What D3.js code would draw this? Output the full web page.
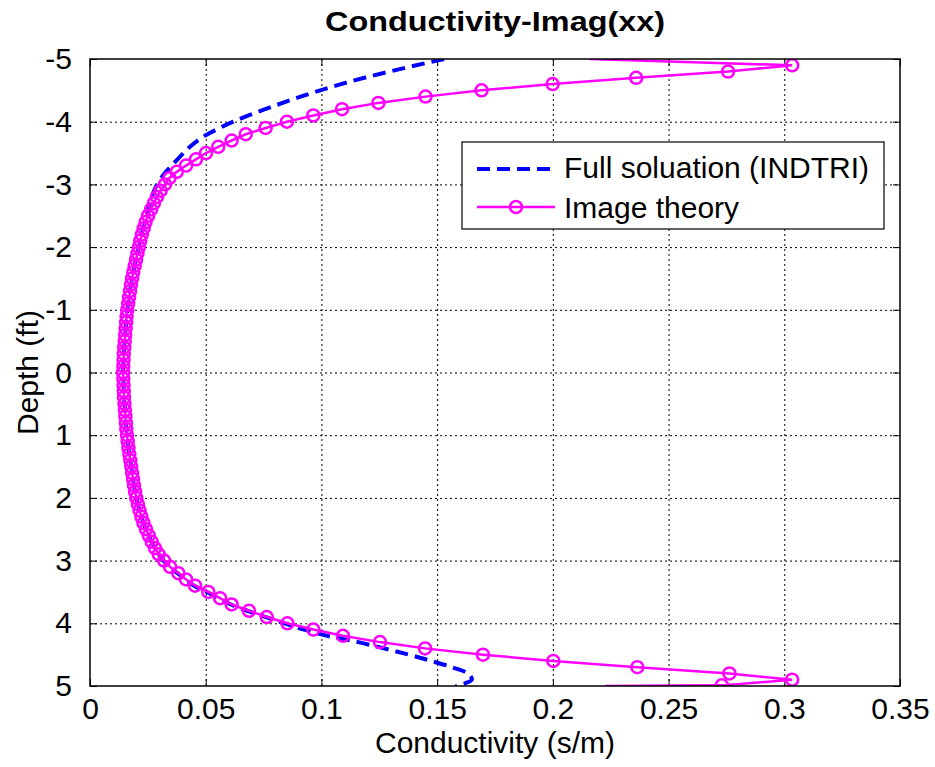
<!DOCTYPE html>
<html>
<head>
<meta charset="utf-8">
<script src="https://cdn.jsdelivr.net/npm/d3@7"></script>
<style>
  body { margin: 0; background: #fff; }
  text { font-family: 'Liberation Sans', Arial, sans-serif; fill: #000; }
  .grid line { stroke: #000; stroke-width: 1; stroke-dasharray: 2,3; }
  .grid path { display: none; }
</style>
</head>
<body>
<div id="chart"></div>
<script>
// ----- data -----
const xTickValues = [0, 0.05, 0.1, 0.15, 0.2, 0.25, 0.3, 0.35];
const xTickLabels = ['0', '0.05', '0.1', '0.15', '0.2', '0.25', '0.3', '0.35'];
const yTickValues = [-5, -4, -3, -2, -1, 0, 1, 2, 3, 4, 5];
const yTickLabels = ['-5', '-4', '-3', '-2', '-1', '0', '1', '2', '3', '4', '5'];

// Image theory (magenta, circles)
const imageDepth = [
  -5.0, -4.9, -4.8, -4.7, -4.6, -4.5, -4.4, -4.3, -4.2, -4.1,
  -4.0, -3.9, -3.8, -3.7, -3.6, -3.5, -3.4, -3.3, -3.2, -3.1,
  -3.0, -2.9, -2.8, -2.7, -2.6, -2.5, -2.4, -2.3, -2.2, -2.1,
  -2.0, -1.9, -1.8, -1.7, -1.6, -1.5, -1.4, -1.3, -1.2, -1.1,
  -1.0, -0.9, -0.8, -0.7, -0.6, -0.5, -0.4, -0.3, -0.2, -0.1,
  0.0, 0.1, 0.2, 0.3, 0.4, 0.5, 0.6, 0.7, 0.8, 0.9,
  1.0, 1.1, 1.2, 1.3, 1.4, 1.5, 1.6, 1.7, 1.8, 1.9,
  2.0, 2.1, 2.2, 2.3, 2.4, 2.5, 2.6, 2.7, 2.8, 2.9,
  3.0, 3.1, 3.2, 3.3, 3.4, 3.5, 3.6, 3.7, 3.8, 3.9,
  4.0, 4.1, 4.2, 4.3, 4.4, 4.5, 4.6, 4.7, 4.8, 4.9,
  4.99, 5.0
];
const imageCond = [
  0.2160, 0.3034, 0.2757, 0.2360, 0.1999, 0.1692, 0.1450, 0.1246, 0.1089, 0.0965,
  0.0851, 0.0759, 0.0673, 0.0612, 0.0554, 0.0501, 0.0458, 0.0415, 0.0375, 0.0343,
  0.0324, 0.0305, 0.0289, 0.0276, 0.0264, 0.0251, 0.0240, 0.0232, 0.0224, 0.0217,
  0.0211, 0.0205, 0.0199, 0.0193, 0.0187, 0.0182, 0.0177, 0.0173, 0.0169, 0.0165,
  0.0161, 0.0158, 0.0156, 0.0154, 0.0152, 0.0150, 0.0148, 0.0146, 0.0145, 0.0144,
  0.0143, 0.0144, 0.0145, 0.0146, 0.0147, 0.0149, 0.0151, 0.0153, 0.0155, 0.0157,
  0.0160, 0.0163, 0.0166, 0.0170, 0.0174, 0.0178, 0.0182, 0.0186, 0.0190, 0.0195,
  0.0200, 0.0207, 0.0214, 0.0222, 0.0231, 0.0242, 0.0254, 0.0267, 0.0281, 0.0297,
  0.0320, 0.0346, 0.0382, 0.0415, 0.0454, 0.0511, 0.0562, 0.0612, 0.0687, 0.0764,
  0.0853, 0.0965, 0.1093, 0.1253, 0.1448, 0.1698, 0.2002, 0.2365, 0.2763, 0.3034,
  0.2730, 0.2226
];

// Full soluation (INDTRI) (blue dashed)
const fullDepth = [
  -5.0, -4.9, -4.8, -4.7, -4.6, -4.5, -4.4, -4.3, -4.2, -4.1,
  -4.0, -3.9, -3.8, -3.7, -3.6, -3.5, -3.4, -3.3, -3.2, -3.1,
  -3.0, -2.9, -2.8, -2.7, -2.6, -2.5, -2.4, -2.3, -2.2, -2.1,
  -2.0, -1.9, -1.8, -1.7, -1.6, -1.5, -1.4, -1.3, -1.2, -1.1,
  -1.0, -0.9, -0.8, -0.7, -0.6, -0.5, -0.4, -0.3, -0.2, -0.1,
  0.0, 0.1, 0.2, 0.3, 0.4, 0.5, 0.6, 0.7, 0.8, 0.9,
  1.0, 1.1, 1.2, 1.3, 1.4, 1.5, 1.6, 1.7, 1.8, 1.9,
  2.0, 2.1, 2.2, 2.3, 2.4, 2.5, 2.6, 2.7, 2.8, 2.9,
  3.0, 3.1, 3.2, 3.3, 3.4, 3.5, 3.6, 3.7, 3.8, 3.9,
  4.0, 4.1, 4.2, 4.3, 4.4, 4.5, 4.6, 4.7, 4.8, 4.9,
  5.0
];
const fullCond = [
  0.1530, 0.1410, 0.1295, 0.1185, 0.1085, 0.0995, 0.0910, 0.0832, 0.0757, 0.0685,
  0.0619, 0.0560, 0.0508, 0.0465, 0.0432, 0.0404, 0.0378, 0.0353, 0.0328, 0.0307,
  0.0290, 0.0277, 0.0267, 0.0259, 0.0252, 0.0246, 0.0239, 0.0231, 0.0223, 0.0217,
  0.0211, 0.0205, 0.0199, 0.0193, 0.0187, 0.0182, 0.0177, 0.0173, 0.0169, 0.0165,
  0.0161, 0.0158, 0.0156, 0.0154, 0.0152, 0.0150, 0.0148, 0.0146, 0.0145, 0.0144,
  0.0143, 0.0144, 0.0145, 0.0146, 0.0147, 0.0149, 0.0151, 0.0153, 0.0155, 0.0157,
  0.0160, 0.0163, 0.0166, 0.0170, 0.0174, 0.0178, 0.0182, 0.0186, 0.0190, 0.0195,
  0.0200, 0.0207, 0.0214, 0.0222, 0.0231, 0.0242, 0.0254, 0.0267, 0.0281, 0.0297,
  0.0318, 0.0344, 0.0378, 0.0412, 0.0450, 0.0505, 0.0556, 0.0608, 0.0680, 0.0760,
  0.0840, 0.0925, 0.1025, 0.1160, 0.1270, 0.1378, 0.1475, 0.1563, 0.1632, 0.1650,
  0.1580
];

/**********************
***** BASIC SETUP *****
**********************/
const width = 935;
const height = 767;
const margin = { top: 59, left: 90, right: 35, bottom: 81 };
const plotWidth = width - margin.left - margin.right;
const plotHeight = height - margin.top - margin.bottom;
const FONT = 30;

const svg = d3.select('#chart').append('svg')
  .attr('width', width)
  .attr('height', height);

svg.append('rect').attr('width', width).attr('height', height).attr('fill', '#fff');

const xScale = d3.scaleLinear().domain([0, 0.35]).range([0, plotWidth]);
const yScale = d3.scaleLinear().domain([-5, 5]).range([0, plotHeight]);

const plot = svg.append('g').attr('transform', `translate(${margin.left}, ${margin.top})`);

plot.append('clipPath').attr('id', 'clip')
  .append('rect').attr('width', plotWidth).attr('height', plotHeight);

/*******************
***** GRIDLINES *****
*******************/
plot.append('g').attr('class', 'grid')
  .attr('transform', `translate(0, ${plotHeight})`)
  .call(d3.axisBottom(xScale).tickValues(xTickValues.slice(1, -1)).tickSize(-plotHeight).tickFormat(''));

plot.append('g').attr('class', 'grid')
  .call(d3.axisLeft(yScale).tickValues(yTickValues.slice(1, -1)).tickSize(-plotWidth).tickFormat(''));

/**************
***** AXES *****
**************/
const tickLen = 7;
const fmtX = (d) => xTickLabels[xTickValues.indexOf(d)];
const fmtY = (d) => yTickLabels[yTickValues.indexOf(d)];

plot.append('g')
  .attr('transform', `translate(0, ${plotHeight})`)
  .call(d3.axisBottom(xScale).tickValues(xTickValues).tickSizeInner(-tickLen).tickSizeOuter(0).tickPadding(12).tickFormat(fmtX));
plot.append('g')
  .call(d3.axisLeft(yScale).tickValues(yTickValues).tickSizeInner(-tickLen).tickSizeOuter(0).tickPadding(18).tickFormat(fmtY));
plot.append('g')
  .call(d3.axisTop(xScale).tickValues(xTickValues).tickSizeInner(-tickLen).tickSizeOuter(0).tickFormat(''));
plot.append('g')
  .attr('transform', `translate(${plotWidth}, 0)`)
  .call(d3.axisRight(yScale).tickValues(yTickValues).tickSizeInner(-tickLen).tickSizeOuter(0).tickFormat(''));

plot.selectAll('.tick text')
  .attr('font-family', "'Liberation Sans', Arial, sans-serif")
  .attr('font-size', FONT)
  .attr('fill', '#000');
plot.selectAll('.domain').attr('stroke', 'none');
plot.selectAll('.tick line').filter(function() { return !this.closest('.grid'); })
  .attr('stroke', '#000').attr('stroke-width', 1);

/****************
***** LINES *****
****************/
const full = fullDepth.map((d, i) => ({ depth: d, cond: fullCond[i] }));
const image = imageDepth.map((d, i) => ({ depth: d, cond: imageCond[i] }));

const straightLine = d3.line()
  .x((d) => xScale(d.cond))
  .y((d) => yScale(d.depth));

const smoothLine = d3.line()
  .x((d) => xScale(d.cond))
  .y((d) => yScale(d.depth))
  .curve(d3.curveCatmullRom);

const lines = plot.append('g').attr('clip-path', 'url(#clip)');

// full solution first, image theory drawn over it
lines.append('path')
  .datum(full)
  .attr('fill', 'none')
  .attr('stroke', '#0000ff')
  .attr('stroke-width', 4)
  .attr('stroke-dasharray', '13,7')
  .attr('d', smoothLine);

lines.append('path')
  .datum(image)
  .attr('fill', 'none')
  .attr('stroke', '#ff00ff')
  .attr('stroke-width', 2.5)
  .attr('d', straightLine);

lines.selectAll('.marker')
  .data(image.filter((d) => Math.abs(d.depth) < 5))
  .enter()
  .append('circle')
  .attr('class', 'marker')
  .attr('cx', (d) => xScale(d.cond))
  .attr('cy', (d) => yScale(d.depth))
  .attr('r', 6)
  .attr('fill', 'none')
  .attr('stroke', '#ff00ff')
  .attr('stroke-width', 2.5);

// box
plot.append('rect')
  .attr('width', plotWidth)
  .attr('height', plotHeight)
  .attr('fill', 'none')
  .attr('stroke', '#000')
  .attr('stroke-width', 1.5);

/****************
***** LEGEND *****
****************/
const legend = svg.append('g').attr('transform', 'translate(462, 142)');
legend.append('rect')
  .attr('width', 422).attr('height', 87)
  .attr('fill', '#fff').attr('stroke', '#000').attr('stroke-width', 1.2);

legend.append('line')
  .attr('x1', 15).attr('x2', 93).attr('y1', 27).attr('y2', 27)
  .attr('stroke', '#0000ff').attr('stroke-width', 4).attr('stroke-dasharray', '13,7');
legend.append('text')
  .attr('x', 102).attr('y', 36)
  .attr('font-size', FONT)
  .text('Full soluation (INDTRI)');

legend.append('line')
  .attr('x1', 15).attr('x2', 93).attr('y1', 65).attr('y2', 65)
  .attr('stroke', '#ff00ff').attr('stroke-width', 2.5);
legend.append('circle')
  .attr('cx', 54).attr('cy', 65).attr('r', 6)
  .attr('fill', 'none').attr('stroke', '#ff00ff').attr('stroke-width', 2.5);
legend.append('text')
  .attr('x', 102).attr('y', 76)
  .attr('font-size', FONT)
  .text('Image theory');

/*************************
***** TITLE, LABELS *****
*************************/
svg.append('text')
  .attr('x', margin.left + plotWidth / 2)
  .attr('y', 31)
  .attr('text-anchor', 'middle')
  .attr('font-size', 27)
  .attr('font-weight', 'bold')
  .attr('textLength', 340)
  .attr('lengthAdjust', 'spacingAndGlyphs')
  .text('Conductivity-Imag(xx)');

svg.append('text')
  .attr('x', margin.left + plotWidth / 2)
  .attr('y', 753)
  .attr('text-anchor', 'middle')
  .attr('font-size', FONT)
  .text('Conductivity (s/m)');

svg.append('text')
  .attr('transform', `translate(38, ${margin.top + plotHeight / 2}) rotate(-90)`)
  .attr('text-anchor', 'middle')
  .attr('font-size', FONT)
  .text('Depth (ft)');
</script>
</body>
</html>
